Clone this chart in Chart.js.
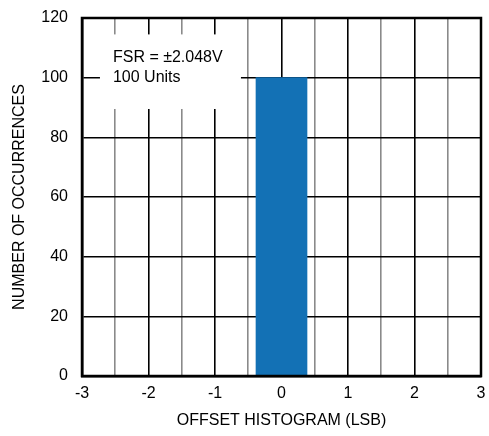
<!DOCTYPE html>
<html>
<head>
<meta charset="utf-8">
<script src="https://cdn.jsdelivr.net/npm/chart.js@4/dist/chart.umd.min.js"></script>
<style>
  html, body { margin: 0; padding: 0; background: #fff; }
  #wrap { width: 489px; height: 436px; }
</style>
</head>
<body>
<div id="wrap"><canvas id="histChart" width="489" height="436"></canvas></div>
<script>
// histogram data: offset code (LSB) vs number of occurrences
const offsetCodes = [0];
const occurrences = [100];
const xTickRange = [-3, 3];
const yTickRange = [0, 120];
const noteLines = ['FSR = \u00B12.048V', '100 Units'];

const FONT = "'Liberation Sans', Arial, sans-serif";

const isMajor = c => c.tick && Number.isInteger(Math.round(c.tick.value * 1000) / 1000);

// white note box + full frame round the plot area
const framePlugin = {
    id: 'frame',
    afterDatasetsDraw(chart) {
        const { ctx, chartArea } = chart;
        const xs = chart.scales.x, ys = chart.scales.y;
        ctx.save();
        // note box
        const bx = xs.getPixelForValue(-2.73), bx2 = xs.getPixelForValue(-0.61);
        const by = ys.getPixelForValue(114.5), by2 = ys.getPixelForValue(89.5);
        ctx.fillStyle = '#fff';
        ctx.fillRect(bx, by, bx2 - bx, by2 - by);
        ctx.fillStyle = '#000';
        ctx.font = '16px ' + FONT;
        ctx.textBaseline = 'middle';
        ctx.fillText(noteLines[0], bx + 13, ys.getPixelForValue(106.7));
        ctx.fillText(noteLines[1], bx + 13, ys.getPixelForValue(100));
        // frame
        ctx.strokeStyle = '#000';
        ctx.lineWidth = 2.5;
        ctx.strokeRect(chartArea.left, chartArea.top, chartArea.right - chartArea.left, chartArea.bottom - chartArea.top);
        ctx.restore();
    }
};

new Chart(document.getElementById('histChart'), {
    type: 'bar',
    data: {
        datasets: [{
            data: offsetCodes.map((x, i) => ({ x: x, y: occurrences[i] })),
            backgroundColor: '#1371b5',
            borderWidth: 0,
            barThickness: 51
        }]
    },
    options: {
        responsive: false,
        animation: false,
        layout: { padding: { top: 18, right: 8, left: 0, bottom: 6 } },
        plugins: { legend: { display: false }, tooltip: { enabled: false } },
        scales: {
            x: {
                type: 'linear',
                offset: false,
                min: xTickRange[0],
                max: xTickRange[1],
                afterFit(scale) {
                    scale.height = 54;
                    scale.paddingLeft = 0;
                    scale.paddingRight = 0;
                },
                ticks: {
                    stepSize: 0.5,
                    autoSkip: false,
                    maxRotation: 0,
                    padding: 8,
                    color: '#000',
                    font: { family: FONT, size: 16 },
                    callback: v => Number.isInteger(v) ? String(v) : ''
                },
                grid: {
                    offset: false,
                    drawTicks: false,
                    color: c => isMajor(c) ? '#000' : '#8a8a8a',
                    lineWidth: 1.6
                },
                border: { display: true, color: '#000', width: 2.5 },
                title: {
                    display: true,
                    text: 'OFFSET HISTOGRAM (LSB)',
                    color: '#000',
                    font: { family: FONT, size: 16 },
                    padding: { top: 10, bottom: 0 }
                }
            },
            y: {
                min: yTickRange[0],
                max: yTickRange[1],
                afterFit(scale) {
                    scale.width = 82;
                    scale.paddingTop = 0;
                    scale.paddingBottom = 0;
                },
                ticks: {
                    stepSize: 20,
                    padding: 14,
                    color: '#000',
                    font: { family: FONT, size: 16 }
                },
                grid: { drawTicks: false, color: '#000', lineWidth: 1.6 },
                border: { display: true, color: '#000', width: 2.5 },
                title: {
                    display: true,
                    text: 'NUMBER OF OCCURRENCES',
                    color: '#000',
                    font: { family: FONT, size: 16 },
                    padding: { top: 10, bottom: 0 }
                }
            }
        }
    },
    plugins: [framePlugin]
});
</script>
</body>
</html>
